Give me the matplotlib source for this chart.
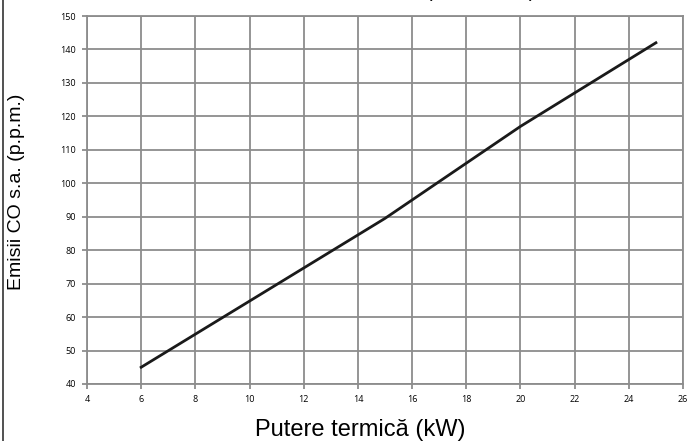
import matplotlib
matplotlib.use('Agg')
import matplotlib.pyplot as plt
from matplotlib import font_manager
from matplotlib.lines import Line2D

# data
putere = [6, 15, 20, 25]
emisii = [45, 89.5, 117, 142]
x_ticks = list(range(4, 27, 2))
y_ticks = list(range(40, 151, 10))

names = {f.name for f in font_manager.fontManager.ttflist}
if 'Liberation Sans Narrow' in names:
    ylab_font, ylab_size = 'Liberation Sans Narrow', 17
else:
    ylab_font, ylab_size = 'Liberation Sans', 14

fig = plt.figure(figsize=(6.92, 4.41), dpi=100)
ax = fig.add_axes([0.1257, 0.1293, 0.8613, 0.8344])

ax.plot(putere, emisii, color='#1a1a1a', lw=2)

ax.set_xlim(4, 26)
ax.set_ylim(40, 150)
ax.set_xticks(x_ticks)
ax.set_yticks(y_ticks)
ax.grid(True, color='#8c8c8c', lw=1.3)
ax.set_axisbelow(True)
for s in ax.spines.values():
    s.set_color('#8c8c8c')
    s.set_linewidth(1.3)
ax.tick_params(direction='out', length=3.5, width=1.3, color='#8c8c8c',
               labelsize=6.5, pad=4.5)
for lab in ax.get_xticklabels() + ax.get_yticklabels():
    lab.set_fontfamily('Open Sans')

# axis titles
fig.text(0.52, 0.025, 'Putere termică (kW)', fontsize=17, family='Liberation Sans',
         ha='center', va='center')
fig.text(0.024, 0.565, 'Emisii CO s.a. (p.p.m.)', fontsize=ylab_size, family=ylab_font,
         rotation=90, ha='center', va='center')

# title cut off at the top of the image, only the lowest bits show
fig.text(0.694, 1.006, '(λ, 13 % O2)', fontsize=14, family='Liberation Sans',
         ha='center', va='baseline')

# left border line
fig.add_artist(Line2D([0.004, 0.004], [0, 1], color='#333333', lw=1.2,
                      transform=fig.transFigure))

fig.savefig('out.png', dpi=100)
